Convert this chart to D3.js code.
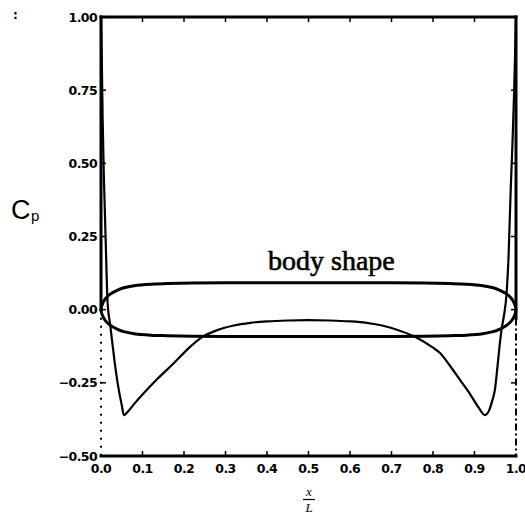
<!DOCTYPE html>
<html>
<head>
<meta charset="utf-8">
<script src="https://cdn.jsdelivr.net/npm/d3@7"></script>
<style>
  html, body { margin: 0; padding: 0; background: #fff; }
  svg { display: block; }
</style>
</head>
<body>
<svg id="chart" width="525" height="516"></svg>
<script>
// Pressure coefficient along the body, x/L from nose to tail
const cpX = [0, 0.002, 0.004, 0.007, 0.011, 0.016, 0.022, 0.027, 0.033, 0.04, 0.05, 0.055,
  0.065, 0.08, 0.1, 0.135, 0.174, 0.214, 0.24, 0.28, 0.32, 0.36, 0.4, 0.45, 0.5,
  0.55, 0.6, 0.64, 0.68, 0.72, 0.76, 0.8, 0.817, 0.84, 0.865, 0.89, 0.91, 0.925,
  0.935, 0.943, 0.949, 0.955, 0.96, 0.965, 0.971, 0.977, 0.982, 0.987, 0.991, 0.995, 0.998, 1.0];
const cpVal = [1.0, 0.85, 0.65, 0.45, 0.25, 0.02, -0.05, -0.11, -0.18, -0.25, -0.326, -0.36,
  -0.348, -0.322, -0.29, -0.238, -0.185, -0.128, -0.097, -0.07, -0.054, -0.045, -0.04, -0.037, -0.036,
  -0.037, -0.04, -0.045, -0.055, -0.072, -0.095, -0.13, -0.148, -0.19, -0.24, -0.29, -0.335, -0.36,
  -0.345, -0.31, -0.275, -0.2, -0.13, -0.07, -0.02, 0.05, 0.18, 0.4, 0.55, 0.72, 0.88, 1.0];

// Body contour: half thickness along x/L (upper surface +, lower surface −)
const bodyX = [0, 0.005, 0.012, 0.023, 0.04, 0.055, 0.08, 0.12, 0.16, 0.22, 0.3, 0.4, 0.5,
  0.6, 0.7, 0.78, 0.84, 0.88, 0.92, 0.945, 0.96, 0.977, 0.988, 0.995, 1.0];
const bodyHalf = [0, 0.025, 0.04, 0.054, 0.067, 0.075, 0.082, 0.087, 0.089, 0.091, 0.092, 0.092, 0.092,
  0.092, 0.092, 0.091, 0.089, 0.087, 0.082, 0.075, 0.067, 0.054, 0.04, 0.025, 0];

// Axis ticks
const xTicks = [0, 0.1, 0.2, 0.3, 0.4, 0.5, 0.6, 0.7, 0.8, 0.9, 1.0];
const xTickLabels = ["0.0", "0.1", "0.2", "0.3", "0.4", "0.5", "0.6", "0.7", "0.8", "0.9", "1.0"];
const yTicks = [1.0, 0.75, 0.5, 0.25, 0, -0.25, -0.5];
const yTickLabels = ["1.00", "0.75", "0.50", "0.25", "0.00", "\u22120.25", "\u22120.50"];

const svg = d3.select("#chart");
const x = d3.scaleLinear().domain([0, 1]).range([101, 516]);
const y = d3.scaleLinear().domain([-0.5, 1]).range([456, 17]);

const ink = "#000";
const tickFont = "'DejaVu Sans', sans-serif";

// Frame: solid top and bottom, upper sides solid, lower sides broken
const frame = svg.append("g").attr("stroke", ink).attr("fill", "none").attr("stroke-linecap", "square");
frame.append("line").attr("x1", x(0)).attr("x2", x(1)).attr("y1", y(1)).attr("y2", y(1)).attr("stroke-width", 3);
frame.append("line").attr("x1", x(0)).attr("x2", x(1)).attr("y1", y(-0.5)).attr("y2", y(-0.5)).attr("stroke-width", 3);
frame.append("line").attr("x1", x(0)).attr("x2", x(0)).attr("y1", y(1)).attr("y2", y(0)).attr("stroke-width", 3);
frame.append("line").attr("x1", x(1)).attr("x2", x(1)).attr("y1", y(1)).attr("y2", y(-0.03)).attr("stroke-width", 3);
frame.append("line").attr("x1", x(0)).attr("x2", x(0)).attr("y1", y(0)).attr("y2", y(-0.5))
  .attr("stroke-width", 2).attr("stroke-dasharray", "2,6").attr("stroke-linecap", "butt");
frame.append("line").attr("x1", x(1)).attr("x2", x(1)).attr("y1", y(-0.03)).attr("y2", y(-0.5))
  .attr("stroke-width", 2).attr("stroke-dasharray", "7,3,2,3").attr("stroke-linecap", "butt");

// Inward tick marks on all four sides
const ticks = svg.append("g").attr("stroke", ink).attr("stroke-width", 1.5);
xTicks.slice(1, -1).forEach(t => {
  ticks.append("line").attr("x1", x(t)).attr("x2", x(t)).attr("y1", y(1)).attr("y2", y(1) + 5);
  ticks.append("line").attr("x1", x(t)).attr("x2", x(t)).attr("y1", y(-0.5)).attr("y2", y(-0.5) - 5);
});
yTicks.slice(1, -1).forEach(t => {
  ticks.append("line").attr("x1", x(0)).attr("x2", x(0) + 5).attr("y1", y(t)).attr("y2", y(t));
  ticks.append("line").attr("x1", x(1)).attr("x2", x(1) - 5).attr("y1", y(t)).attr("y2", y(t));
});

// Tick labels
svg.append("g").selectAll("text").data(yTicks).join("text")
  .attr("x", 97).attr("y", d => y(d)).attr("dy", "0.36em")
  .attr("text-anchor", "end")
  .attr("font-family", tickFont).attr("font-weight", "bold").attr("font-size", 12.5)
  .attr("letter-spacing", -0.6)
  .text((d, i) => yTickLabels[i]);

svg.append("g").selectAll("text").data(xTicks).join("text")
  .attr("x", d => x(d)).attr("y", 473)
  .attr("text-anchor", "middle")
  .attr("font-family", tickFont).attr("font-weight", "bold").attr("font-size", 12.5)
  .attr("letter-spacing", -0.6)
  .text((d, i) => xTickLabels[i]);

// Body contour as a closed outline
const bodyPts = bodyX.map((v, i) => [v, bodyHalf[i]])
  .concat(bodyX.slice(1, -1).reverse().map((v, i) => [v, -bodyHalf[bodyX.length - 2 - i]]));
svg.append("path")
  .attr("d", d3.line().x(d => x(d[0])).y(d => y(d[1])).curve(d3.curveCatmullRomClosed)(bodyPts))
  .attr("fill", "none").attr("stroke", ink).attr("stroke-width", 3);

// Pressure coefficient curve
svg.append("path")
  .attr("d", d3.line().x((d, i) => x(cpX[i])).y(d => y(d)).curve(d3.curveMonotoneX)(cpVal))
  .attr("fill", "none").attr("stroke", ink).attr("stroke-width", 2.2).attr("stroke-linejoin", "round");

// Annotation
svg.append("text")
  .attr("x", 268).attr("y", 270)
  .attr("font-family", "'Liberation Serif', serif").attr("font-size", 28)
  .attr("stroke", ink).attr("stroke-width", 0.6)
  .text("body shape");

// Axis titles
svg.append("text")
  .attr("x", 11).attr("y", 219)
  .attr("font-family", "'Liberation Sans', sans-serif").attr("font-size", 27)
  .text("C");
svg.append("text")
  .attr("x", 31).attr("y", 221)
  .attr("font-family", "'Liberation Sans', sans-serif").attr("font-size", 15)
  .text("p");

svg.append("text")
  .attr("x", 309).attr("y", 496).attr("text-anchor", "middle")
  .attr("font-family", "'Liberation Serif', serif").attr("font-style", "italic").attr("font-size", 13)
  .text("x");
svg.append("line").attr("x1", 303).attr("x2", 315).attr("y1", 499.5).attr("y2", 499.5)
  .attr("stroke", ink).attr("stroke-width", 1.2);
svg.append("text")
  .attr("x", 309).attr("y", 512).attr("text-anchor", "middle")
  .attr("font-family", "'Liberation Serif', serif").attr("font-style", "italic").attr("font-size", 13)
  .text("L");

// Small mark in the upper left corner
svg.append("text")
  .attr("x", 13).attr("y", 19)
  .attr("font-family", tickFont).attr("font-weight", "bold").attr("font-size", 12)
  .text(":");
</script>
</body>
</html>
